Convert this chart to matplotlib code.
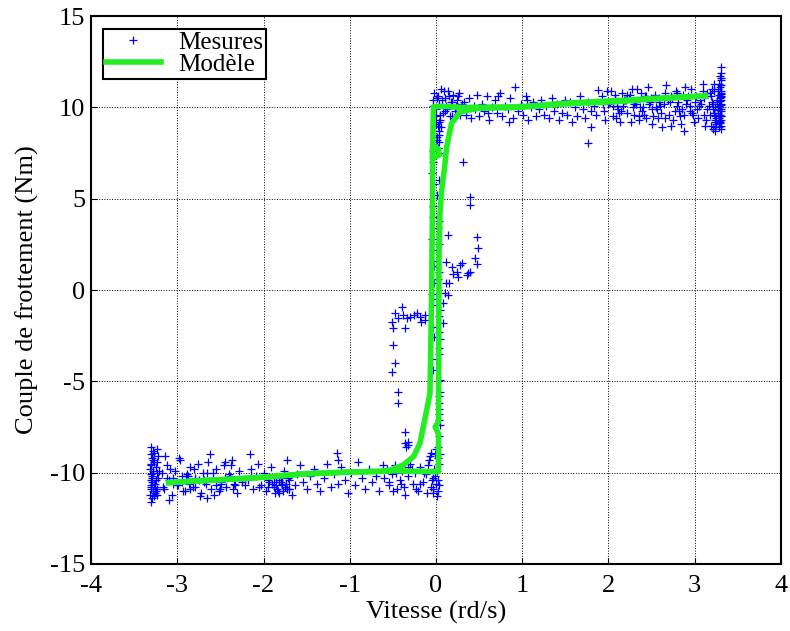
import numpy as np
import matplotlib
matplotlib.use("Agg")
import matplotlib.pyplot as plt

plt.rcParams["font.family"] = ["Liberation Serif", "DejaVu Serif"]
plt.rcParams["axes.unicode_minus"] = False

# --- measured points, read off the picture, grouped by region ---
# right column near the max speed
right_col_x = [3.30, 3.31, 3.29, 3.30, 3.28, 3.31, 3.29, 3.30, 3.27, 3.31,
               3.28, 3.30, 3.29, 3.31, 3.26, 3.30, 3.28, 3.29, 3.31, 3.30,
               3.27, 3.29, 3.30, 3.28, 3.31, 3.29, 3.25, 3.30, 3.28, 3.31,
               3.29, 3.30, 3.27, 3.31, 3.28, 3.30, 3.29, 3.24, 3.31, 3.30,
               3.22, 3.20, 3.18, 3.23, 3.21, 3.19, 3.24, 3.22, 3.17, 3.25,
               3.21, 3.23, 3.19, 3.26, 3.20, 3.22, 3.18, 3.24, 3.21, 3.23]
right_col_y = [12.2, 11.9, 11.7, 11.5, 11.3, 11.6, 11.1, 10.9, 11.0, 10.8,
               10.7, 10.6, 10.5, 10.4, 10.3, 10.2, 10.1, 10.0, 9.9, 9.8,
               9.7, 9.6, 9.5, 9.4, 9.3, 9.2, 9.1, 9.0, 8.9, 8.8,
               10.35, 10.15, 9.85, 9.55, 9.25, 10.55, 9.15, 8.7, 10.75, 11.2,
               10.9, 10.3, 9.6, 9.2, 9.9, 10.6, 8.9, 11.3, 10.1, 9.4,
               8.8, 10.0, 9.0, 10.4, 11.0, 9.7, 10.8, 9.3, 10.2, 9.5]

right_x = [1.92, 1.95, 1.98, 2.02, 2.05, 2.08, 2.10, 2.13, 2.16, 2.18,
           2.21, 2.24, 2.27, 2.30, 2.32, 2.35, 2.38, 2.40, 2.43, 2.46,
           2.48, 2.51, 2.54, 2.56, 2.59, 2.62, 2.64, 2.67, 2.70, 2.72,
           2.75, 2.78, 2.80, 2.83, 2.86, 2.88, 2.91, 2.94, 2.96, 2.99,
           3.02, 3.04, 3.07, 3.10, 3.12, 3.14, 1.96, 2.03, 2.11, 2.19,
           2.26, 2.33, 2.41, 2.49, 2.57, 2.65, 2.73, 2.81, 2.89, 2.97,
           3.05, 3.13, 2.00, 2.15, 2.36, 2.52, 2.69, 2.85, 3.00, 3.09,
           2.07, 2.22, 2.44, 2.60, 2.77, 2.92, 3.11, 2.29, 2.55, 2.84,
           2.05, 2.12, 2.20, 2.28, 2.35, 2.42, 2.50, 2.58, 2.66, 2.74,
           2.82, 2.90, 2.98, 3.06, 3.14, 2.01, 2.09, 2.17, 2.25, 2.39,
           2.47, 2.61, 2.71, 2.79, 2.87, 2.95, 3.03, 3.11, 1.94, 2.31]
right_y = [10.6, 9.8, 10.9, 10.3, 9.5, 10.7, 10.1, 9.2, 10.8, 10.4,
           9.7, 10.5, 11.0, 9.6, 10.2, 9.3, 10.8, 10.0, 9.4, 11.1,
           10.3, 9.1, 10.7, 9.9, 10.5, 8.9, 10.2, 11.2, 9.6, 10.6,
           9.3, 10.9, 10.1, 9.5, 10.7, 8.7, 10.4, 9.8, 11.0, 9.2,
           10.6, 9.4, 10.2, 11.3, 9.0, 10.8, 9.3, 10.9, 9.9, 10.4,
           9.2, 11.0, 9.6, 10.5, 9.4, 10.8, 9.0, 10.3, 11.1, 9.7,
           10.1, 9.3, 10.2, 9.8, 10.0, 9.5, 10.4, 9.9, 10.3, 10.9,
           10.5, 10.7, 10.6, 10.1, 9.8, 10.6, 9.6, 10.2, 10.0, 9.1,
           10.1, 9.7, 10.4, 10.0, 9.5, 10.6, 9.9, 10.3, 9.4, 10.5,
           9.8, 10.2, 9.6, 10.4, 9.9, 10.3, 9.4, 10.1, 10.7, 9.8,
           10.2, 9.7, 10.3, 10.8, 9.6, 10.1, 9.9, 10.5, 10.2, 10.3]

mid_right_x = [0.32, 0.35, 0.38, 0.41, 0.44, 0.47, 0.50, 0.53, 0.56, 0.59,
               0.62, 0.65, 0.68, 0.71, 0.74, 0.77, 0.80, 0.83, 0.86, 0.89,
               0.92, 0.95, 0.98, 1.01, 1.04, 1.07, 1.10, 1.13, 1.16, 1.19,
               1.22, 1.25, 1.28, 1.31, 1.34, 1.37, 1.40, 1.43, 1.46, 1.49,
               1.52, 1.55, 1.58, 1.61, 1.64, 1.67, 1.70, 1.73, 1.76, 1.80,
               1.83, 1.86, 1.88, 1.76, 1.80, 0.45, 0.60, 0.72, 0.85, 1.05]
mid_right_y = [10.3, 9.6, 10.5, 9.4, 10.1, 10.7, 9.5, 10.2, 9.8, 10.6,
               9.3, 10.0, 10.4, 9.7, 10.8, 9.5, 10.1, 9.9, 10.5, 9.4,
               11.1, 9.8, 10.2, 9.6, 10.6, 9.3, 10.0, 10.3, 9.5, 9.9,
               10.4, 9.6, 10.1, 9.4, 10.5, 9.8, 10.2, 9.3, 9.7, 10.4,
               9.6, 10.3, 9.2, 10.0, 9.5, 10.6, 9.9, 9.4, 8.06, 8.94,
               10.1, 9.6, 10.95, 10.3, 9.8, 9.9, 9.7, 10.6, 9.2, 10.4]

top_zero_x = [-0.04, -0.02, 0.00, 0.02, 0.04, 0.06, 0.08, 0.10, 0.12, 0.14,
              0.16, 0.18, 0.20, 0.22, 0.24, 0.26, 0.28, 0.30, -0.03, 0.01,
              0.05, 0.09, 0.13, 0.17, 0.21, 0.25, 0.29, 0.03, 0.07, 0.11,
              0.15, 0.19, 0.23, 0.27, 0.00, 0.02, 0.04, 0.01, 0.03, 0.05,
              0.02, 0.00, 0.04, 0.06, 0.03, 0.01]
top_zero_y = [10.4, 10.8, 9.9, 10.6, 10.2, 11.0, 9.7, 10.5, 10.1, 10.9,
              9.5, 10.3, 10.7, 9.8, 10.4, 10.0, 9.6, 10.2, 10.1, 10.5,
              9.6, 10.9, 9.9, 10.3, 9.4, 10.6, 10.0, 9.2, 10.4, 9.8,
              10.6, 9.5, 10.1, 10.8, 9.5, 9.0, 8.7, 8.4, 8.1, 9.3,
              7.8, 9.1, 8.5, 8.9, 7.5, 8.2]

column_x = [-0.04, -0.03, -0.05, -0.02, 0.01, -0.04, -0.03, 0.02, -0.05, -0.03,
            -0.04, 0.03, -0.02, -0.05, -0.03, 0.04, -0.04, -0.02, 0.03, -0.05,
            -0.03, 0.04, -0.04, 0.05, -0.02, 0.04, 0.03, 0.05, 0.04, 0.02,
            0.05, 0.03, 0.04, -0.06, -0.07, 0.04, 0.05, 0.03, 0.04, 0.02,
            0.04, 0.03, 0.05, -0.08, 0.04]
column_y = [7.6, 7.0, 6.4, 5.8, 5.2, 4.6, 4.0, 3.4, 2.8, 2.2,
            1.6, 1.0, 0.4, -0.2, -0.8, -1.4, -2.0, -2.6, -3.2, -3.8,
            -4.4, -5.0, -0.5, -5.6, 1.3, -6.2, -6.8, -7.4, -8.0, -8.6,
            -9.0, -7.1, -6.5, -8.9, -9.1, -5.8, -4.9, -3.5, -2.3, 0.6,
            6.0, 3.8, -1.1, -9.3, 2.5]

spread_pos_x = [0.31, 0.39, 0.39, 0.14, 0.47, 0.49, 0.45, 0.47, 0.30, 0.39,
                0.24, 0.18, 0.36, 0.26, 0.20, 0.12, 0.28, 0.37, 0.12, 0.15,
                0.10, 0.14, 0.085, 0.08, 0.05]
spread_pos_y = [7.0, 5.1, 4.65, 3.0, 2.92, 2.3, 1.75, 1.42, 1.47, 1.0,
                1.0, 1.28, 0.82, 0.73, 0.9, 1.55, 1.37, 0.91, 0.37, 0.37,
                -0.18, -0.27, -0.73, -1.8, -2.7]

spread_neg_x = [-0.40, -0.48, -0.38, -0.30, -0.26, -0.22, -0.19, -0.13, -0.44, -0.34,
                -0.51, -0.50, -0.36, -0.13, -0.17, -0.50, -0.48, -0.51, -0.44, -0.44,
                -0.36, -0.32, -0.32]
spread_neg_y = [-0.91, -1.28, -1.37, -1.46, -1.37, -1.28, -1.46, -1.37, -1.55, -1.55,
                -1.73, -2.1, -2.1, -1.64, -1.73, -3.0, -4.0, -4.47, -5.57, -6.2,
                -7.75, -8.3, -8.5]

bot_zero_x = [-0.60, -0.57, -0.54, -0.51, -0.48, -0.45, -0.42, -0.39, -0.36, -0.33,
              -0.30, -0.27, -0.24, -0.21, -0.18, -0.15, -0.12, -0.09, -0.06, -0.03,
              0.00, 0.02, -0.02, 0.01, -0.01, 0.03, -0.04, 0.02, -0.03, 0.01,
              -0.55, -0.46, -0.37, -0.28, -0.19, -0.10, -0.50, -0.41, -0.32, -0.23,
              -0.14, -0.05, 0.03, 0.02, -0.01, 0.00]
bot_zero_y = [-10.3, -9.8, -10.7, -10.1, -9.6, -10.9, -10.4, -9.9, -11.2, -10.2,
              -9.5, -10.6, -10.0, -11.0, -9.7, -10.5, -10.1, -9.6, -10.8, -10.3,
              -10.6, -11.0, -9.8, -11.3, -10.2, -9.5, -10.9, -10.4, -11.1, -9.9,
              -10.5, -10.0, -10.8, -9.8, -10.6, -11.1, -11.0, -10.6, -9.7, -10.9,
              -10.0, -10.4, -10.7, -9.2, -9.0, -8.7]

left_mid_x = [-2.18, -2.15, -2.12, -2.09, -2.06, -2.03, -2.00, -1.97, -1.94, -1.91,
              -1.88, -1.85, -1.82, -1.79, -1.76, -1.73, -1.70, -1.67, -1.64, -1.61,
              -1.58, -1.54, -1.50, -1.46, -1.42, -1.38, -1.34, -1.30, -1.26, -1.22,
              -1.18, -1.14, -1.10, -1.06, -1.02, -0.98, -0.94, -0.90, -0.86, -0.82,
              -0.78, -0.74, -0.70, -0.66, -0.62, -1.85, -1.80, -1.75, -1.70, -1.90,
              -1.82, -1.77, -1.72, -1.87, -1.95, -1.15, -1.14, -1.73, -2.16, -0.36, -0.35]
left_mid_y = [-10.4, -9.8, -10.9, -10.2, -9.5, -10.7, -10.0, -11.0, -10.5, -9.7,
              -10.8, -10.3, -11.1, -10.6, -9.9, -10.9, -10.4, -11.2, -10.7, -10.1,
              -9.6, -10.5, -10.9, -10.2, -9.8, -10.6, -11.0, -10.3, -9.5, -10.8,
              -10.1, -10.6, -9.7, -10.4, -11.1, -10.0, -10.7, -9.4, -10.3, -10.9,
              -9.8, -10.5, -10.2, -11.0, -9.6, -10.7, -10.5, -10.8, -10.9, -10.6,
              -10.4, -11.0, -10.3, -11.1, -10.8, -8.94, -9.3, -9.3, -9.0, -8.4, -8.6]

left_col_x = [-3.30, -3.28, -3.31, -3.29, -3.27, -3.30, -3.32, -3.28, -3.29, -3.31,
              -3.27, -3.30, -3.28, -3.32, -3.29, -3.30, -3.27, -3.31, -3.28, -3.29,
              -3.30, -3.26, -3.31, -3.28, -3.29, -3.30, -3.27, -3.25, -3.24, -3.26,
              -3.23, -3.25, -3.22, -3.24, -3.26, -3.21, -3.23, -3.25, -3.22, -3.24]
left_col_y = [-8.6, -8.8, -9.0, -9.2, -9.4, -9.6, -9.8, -10.0, -10.2, -10.4,
              -10.6, -10.8, -11.0, -11.2, -11.4, -11.6, -8.9, -9.5, -9.9, -10.3,
              -10.7, -11.1, -10.1, -9.3, -10.5, -10.9, -11.3, -9.7, -10.0, -10.6,
              -9.4, -11.0, -10.3, -8.7, -10.8, -9.9, -11.2, -10.4, -9.1, -10.9]

left_x = [-3.18, -3.15, -3.12, -3.09, -3.06, -3.03, -3.00, -2.97, -2.94, -2.91,
          -2.88, -2.85, -2.82, -2.79, -2.76, -2.73, -2.70, -2.67, -2.64, -2.61,
          -2.58, -2.55, -2.52, -2.49, -2.46, -2.43, -2.40, -2.37, -2.34, -2.31,
          -2.28, -2.25, -2.22, -3.10, -2.98, -2.86, -2.74, -2.62, -2.50, -2.38,
          -3.05, -2.93, -2.81, -2.69, -2.57, -2.45, -2.33, -3.14, -2.90, -2.66,
          -3.05, -2.95, -2.85, -2.75, -2.65, -2.55, -2.45, -2.35, -2.25, -2.15,
          -2.05, -1.95, -1.88, -1.84, -1.79, -1.74, -1.69, -1.83, -1.78, -1.71,
          -3.16, -3.12, -3.08, -2.99, -2.89, -2.79, -2.69, -2.59, -2.49, -2.39]
left_y = [-10.0, -10.9, -9.6, -10.4, -11.2, -9.9, -10.7, -9.3, -10.5, -11.0,
          -10.2, -9.7, -10.8, -10.3, -9.5, -11.1, -10.0, -10.6, -9.4, -10.9,
          -10.3, -9.8, -11.0, -10.5, -9.6, -10.8, -10.1, -9.3, -10.6, -11.1,
          -9.9, -10.4, -10.7, -11.5, -9.2, -10.6, -11.3, -9.0, -10.9, -9.6,
          -10.3, -11.0, -9.8, -10.5, -11.2, -9.4, -10.7, -9.1, -10.2, -11.4,
          -10.6, -10.2, -10.9, -10.4, -10.0, -10.7, -10.3, -10.9, -10.5, -10.2,
          -10.8, -10.4, -10.5, -10.9, -10.3, -10.6, -10.2, -11.0, -10.7, -10.9,
          -10.8, -10.3, -9.8, -10.7, -10.1, -10.8, -10.4, -10.0, -10.6, -10.2]

# --- model (hysteresis loop): rising-speed branch and falling-speed branch ---
model_up_x = [-3.10, -2.77, -2.39, -2.00, -1.54, -1.08, -0.65, -0.53, -0.38, -0.26,
              -0.186, -0.147, -0.108, -0.07, -0.06, -0.05, -0.04, -0.04, 0.03, 0.04,
              -0.04, -0.03, 0.10, 0.30, 0.97, 1.55, 2.06, 2.52, 3.06, 3.12]
model_up_y = [-10.55, -10.45, -10.36, -10.25, -10.07, -9.98, -9.94, -9.85, -9.58, -9.12,
              -8.39, -7.48, -6.57, -5.66, -3.0, 0.0, 5.0, 7.9, 7.7, 7.4,
              7.2, 10.03, 10.05, 10.0, 10.03, 10.25, 10.36, 10.49, 10.62, 10.62]
model_down_x = [3.12, 2.52, 2.06, 1.55, 0.97, 0.50, 0.28, 0.18, 0.124, 0.10,
                0.066, 0.046, 0.035, 0.03, 0.03, -0.01, 0.03, 0.027, 0.0, -0.5,
                -1.08, -1.54, -2.00, -2.39, -2.77, -3.10]
model_down_y = [10.62, 10.45, 10.3, 10.2, 10.0, 9.95, 9.76, 9.12, 7.85, 6.75,
                5.47, 4.2, 2.0, -6.8, -7.2, -7.5, -7.9, -9.94, -9.95, -9.9,
                -9.98, -10.07, -10.25, -10.36, -10.45, -10.55]

mes_x = np.concatenate([right_col_x, right_x, mid_right_x, top_zero_x, column_x,
                        spread_pos_x, spread_neg_x, bot_zero_x, left_mid_x,
                        left_col_x, left_x])
mes_y = np.concatenate([right_col_y, right_y, mid_right_y, top_zero_y, column_y,
                        spread_pos_y, spread_neg_y, bot_zero_y, left_mid_y,
                        left_col_y, left_y])

fig = plt.figure(figsize=(7.9, 6.31), dpi=100)
ax = fig.add_axes([0.1152, 0.1062, 0.8734, 0.8684])

ax.plot(mes_x, mes_y, "+", color="#0000ff", markersize=5.5, markeredgewidth=0.9,
        label="Mesures")
ax.plot(model_up_x, model_up_y, "-", color="#22ee22", linewidth=4,
        label="Modèle")
ax.plot(model_down_x, model_down_y, "-", color="#22ee22", linewidth=4)

ax.set_xlim(-4, 4)
ax.set_ylim(-15, 15)
ax.set_xticks(np.arange(-4, 5, 1))
ax.set_yticks(np.arange(-15, 16, 5))
ax.grid(True, color="black", linestyle=":", linewidth=0.7)
ax.tick_params(direction="in", length=4, labelsize=19, width=0.8)
ax.tick_params(axis="x", pad=8)
ax.tick_params(axis="y", pad=4)
for s in ax.spines.values():
    s.set_linewidth(1.5)

ax.set_xlabel("Vitesse (rd/s)", fontsize=19, labelpad=3)
ax.set_ylabel("Couple de frottement (Nm)", fontsize=19, labelpad=8)

leg = ax.legend(loc="upper left", bbox_to_anchor=(0.018, 0.977), borderaxespad=0,
                fontsize=18, fancybox=False, framealpha=1, edgecolor="black",
                handlelength=2.2, handletextpad=0.7, labelspacing=0.0,
                borderpad=0.1)
leg.get_frame().set_linewidth(1.5)

fig.savefig("out.png", dpi=100)
